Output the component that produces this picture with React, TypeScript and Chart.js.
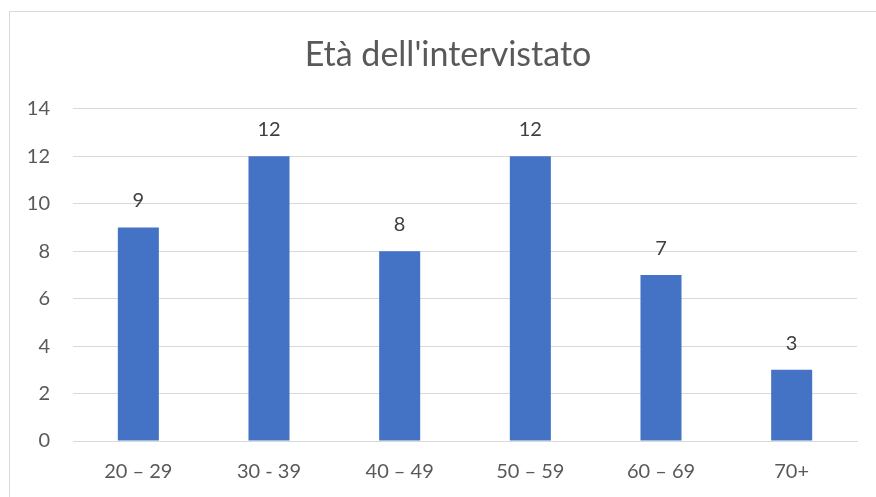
import React, { useEffect, useRef } from "react";
import { Chart, registerables } from "chart.js";

Chart.register(...registerables);

const TITLE = "Età dell'intervistato";
const CATEGORIES = ["20 – 29", "30 - 39", "40 – 49", "50 – 59", "60 – 69", "70+"];
const VALUES = [9, 12, 8, 12, 7, 3];
const Y_MIN = 0;
const Y_MAX = 14;
const Y_STEP = 2;

const FONT = "Lato, 'Noto Sans', sans-serif";

const dataLabels = {
  id: "dataLabels",
  afterDatasetsDraw(chart: any) {
    const ctx = chart.ctx;
    const meta = chart.getDatasetMeta(0);
    const ds = chart.data.datasets[0];
    ctx.save();
    ctx.font = `20px ${FONT}`;
    ctx.fillStyle = "#404040";
    ctx.textAlign = "center";
    ctx.textBaseline = "alphabetic";
    meta.data.forEach((bar: any, i: number) => {
      ctx.fillText(String(ds.data[i]), bar.x, bar.y - 20);
    });
    ctx.restore();
  },
};

// centre the title over the bordered chart frame rather than the canvas
const titleShift = {
  id: "titleShift",
  afterLayout(chart: any) {
    const t = chart.titleBlock;
    if (t) {
      t.left = 39;
      t.right = chart.chartArea.right;
    }
  },
};

export default function App() {
  const ref = useRef<HTMLCanvasElement>(null);
  useEffect(() => {
    if (!ref.current) return;
    const chart = new Chart(ref.current, {
      type: "bar",
      data: {
        labels: CATEGORIES,
        datasets: [
          {
            data: VALUES,
            backgroundColor: "#4472C4",
            categoryPercentage: 1,
            barPercentage: 0.314,
          },
        ],
      },
      options: {
        responsive: false,
        animation: false,
        layout: { padding: { left: 0, right: 19, top: 0, bottom: 0 } },
        plugins: {
          legend: { display: false },
          tooltip: { enabled: false },
          title: {
            display: true,
            text: TITLE,
            color: "#595959",
            font: { family: FONT, size: 34, weight: "normal" },
            padding: { top: 35, bottom: 33 },
          },
        },
        scales: {
          x: {
            grid: { display: false, drawTicks: false },
            border: { display: true, color: "#d9d9d9", width: 1 },
            ticks: {
              color: "#595959",
              font: { family: FONT, size: 20 },
              padding: 19,
              maxRotation: 0,
            },
            afterFit: (s: any) => {
              s.height = 56;
            },
          },
          y: {
            min: Y_MIN,
            max: Y_MAX,
            ticks: {
              stepSize: Y_STEP,
              color: "#595959",
              font: { family: FONT, size: 20 },
              padding: 23,
            },
            grid: { color: "#d9d9d9", lineWidth: 1, drawTicks: false },
            border: { display: false },
            afterFit: (s: any) => {
              s.width = 73;
            },
          },
        },
      },
      plugins: [dataLabels, titleShift],
    });
    return () => chart.destroy();
  }, []);

  return (
    <div
      style={{
        position: "fixed",
        left: 0,
        top: 0,
        width: 876,
        height: 497,
        overflow: "hidden",
        background: "#fff",
      }}
    >
      <div
        style={{
          position: "absolute",
          left: 9,
          top: 11,
          width: 1000,
          height: 1000,
          border: "1.5px solid #d9d9d9",
          boxSizing: "border-box",
        }}
      />
      <canvas
        ref={ref}
        width={876}
        height={497}
        style={{ position: "absolute", left: 0, top: 0 }}
      />
    </div>
  );
}
